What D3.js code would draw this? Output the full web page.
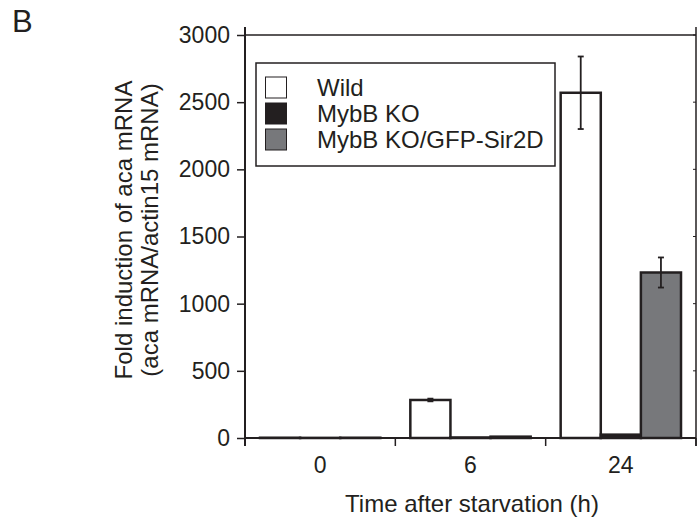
<!DOCTYPE html>
<html>
<head>
<meta charset="utf-8">
<script src="https://cdn.jsdelivr.net/npm/d3@7"></script>
<style>
  body { margin: 0; background: #fff; }
  text { font-family: "Liberation Sans", Arial, sans-serif; fill: #231f20; }
</style>
</head>
<body>
<div class="viz"></div>
<script>
// data
var timePoints = ["0", "6", "24"];
var strains = ["Wild", "MybB KO", "MybB KO/GFP-Sir2D"];
var wildVals = [2, 283, 2570];
var kovals = [1, 4, 25];
var sirVals = [2, 10, 1232];
var wildErr = [0, 10, 270];
var koErr = [0, 0, 0];
var sirErr = [0, 0, 112];
var yTicks = [0, 500, 1000, 1500, 2000, 2500, 3000];
var fills = ["#ffffff", "#231f20", "#77787b"];

var W = 698, H = 526;
var margin = {top: 35, right: 2, bottom: 88, left: 245};
var width = W - margin.left - margin.right,
    height = H - margin.top - margin.bottom;
var ink = "#231f20";

var svg = d3.select(".viz").append("svg")
    .attr("width", W)
    .attr("height", H);

var g = svg.append("g")
    .attr("transform", "translate(" + margin.left + "," + margin.top + ")");

var x0 = d3.scaleBand().domain(timePoints).range([0, width]);
var x1 = d3.scaleBand().domain(strains).range([15, x0.bandwidth() - 15]);
var y = d3.scaleLinear().domain([0, 3000]).range([height, 0]);

var series = [
  {name: strains[0], vals: wildVals, err: wildErr, fill: fills[0]},
  {name: strains[1], vals: kovals, err: koErr, fill: fills[1]},
  {name: strains[2], vals: sirVals, err: sirErr, fill: fills[2]}
];

// frame: top and right lines
g.append("line").attr("x1", 0).attr("x2", width).attr("y1", 0).attr("y2", 0)
  .attr("stroke", ink).attr("stroke-width", 1.5);
g.append("line").attr("x1", width).attr("x2", width).attr("y1", -8).attr("y2", height + 8)
  .attr("stroke", ink).attr("stroke-width", 1.5);

// right side tiny inner ticks
g.selectAll(".rtick").data(yTicks).enter().append("line")
  .attr("x1", width - 3).attr("x2", width)
  .attr("y1", function(d) { return y(d); }).attr("y2", function(d) { return y(d); })
  .attr("stroke", ink).attr("stroke-width", 1);

// bars
series.forEach(function(s) {
  var grp = g.append("g");
  grp.selectAll("rect").data(timePoints).enter().append("rect")
    .attr("x", function(d) { return x0(d) + x1(s.name); })
    .attr("y", function(d, i) { return y(s.vals[i]); })
    .attr("width", x1.bandwidth())
    .attr("height", function(d, i) { return height - y(s.vals[i]); })
    .attr("fill", s.fill)
    .attr("stroke", ink)
    .attr("stroke-width", 2.5);

  // error bars
  timePoints.forEach(function(t, i) {
    if (!s.err[i]) return;
    var cx = x0(t) + x1(s.name) + x1.bandwidth() / 2;
    var lo = y(s.vals[i] - s.err[i]), hi = y(s.vals[i] + s.err[i]);
    grp.append("line").attr("x1", cx).attr("x2", cx).attr("y1", lo).attr("y2", hi)
      .attr("stroke", ink).attr("stroke-width", 1.8);
    [lo, hi].forEach(function(yy) {
      grp.append("line").attr("x1", cx - 3).attr("x2", cx + 3).attr("y1", yy).attr("y2", yy)
        .attr("stroke", ink).attr("stroke-width", 1.8);
    });
  });
});

// y axis
var yAxis = g.append("g")
  .call(d3.axisLeft(y).tickValues(yTicks).tickFormat(d3.format("d"))
    .tickSize(8).tickPadding(7).tickSizeOuter(0));
yAxis.select(".domain").attr("stroke", ink).attr("stroke-width", 2)
  .attr("d", "M0,-8V" + (height + 8));
yAxis.selectAll(".tick line").attr("stroke", ink).attr("stroke-width", 1.5);
yAxis.selectAll(".tick text").style("font-size", "23px").attr("fill", ink);

// x axis (ticks at band edges)
var xAxis = g.append("g").attr("transform", "translate(0," + height + ")");
xAxis.append("line").attr("x1", 0).attr("x2", width).attr("y1", 0).attr("y2", 0)
  .attr("stroke", ink).attr("stroke-width", 2);
var edges = timePoints.map(function(t) { return x0(t); }).concat([width]);
xAxis.selectAll(".xt").data(edges).enter().append("line")
  .attr("x1", function(d) { return d; }).attr("x2", function(d) { return d; })
  .attr("y1", 0).attr("y2", 8)
  .attr("stroke", ink).attr("stroke-width", 1.5);
xAxis.selectAll(".xl").data(timePoints).enter().append("text")
  .attr("x", function(d) { return x0(d) + x0.bandwidth() / 2; })
  .attr("y", 35)
  .attr("text-anchor", "middle")
  .style("font-size", "23px")
  .text(function(d) { return d; });

// axis titles
svg.append("text")
  .attr("x", 472).attr("y", 512)
  .attr("text-anchor", "middle")
  .style("font-size", "24px")
  .text("Time after starvation (h)");

var yt = svg.append("text")
  .attr("transform", "translate(132,230) rotate(-90)")
  .attr("text-anchor", "middle")
  .style("font-size", "24px");
yt.append("tspan").attr("x", 0).attr("y", 0).text("Fold induction of aca mRNA");
yt.append("tspan").attr("x", 0).attr("y", 26).text("(aca mRNA/actin15 mRNA)");

// panel letter
svg.append("text").attr("x", 12).attr("y", 32)
  .style("font-size", "31px").text("B");

// legend
var leg = svg.append("g").attr("transform", "translate(256,63)");
leg.append("rect").attr("width", 299).attr("height", 103)
  .attr("fill", "#fff").attr("stroke", ink).attr("stroke-width", 1.5);
var rows = leg.selectAll(".row").data(series).enter().append("g")
  .attr("transform", function(d, i) { return "translate(0," + (14 + i * 26) + ")"; });
rows.append("rect").attr("x", 9.5).attr("width", 21).attr("height", 21)
  .attr("fill", function(d) { return d.fill; })
  .attr("stroke", ink).attr("stroke-width", 1);
rows.append("text").attr("x", 61).attr("y", 19)
  .style("font-size", "24px")
  .text(function(d) { return d.name; });
</script>
</body>
</html>
